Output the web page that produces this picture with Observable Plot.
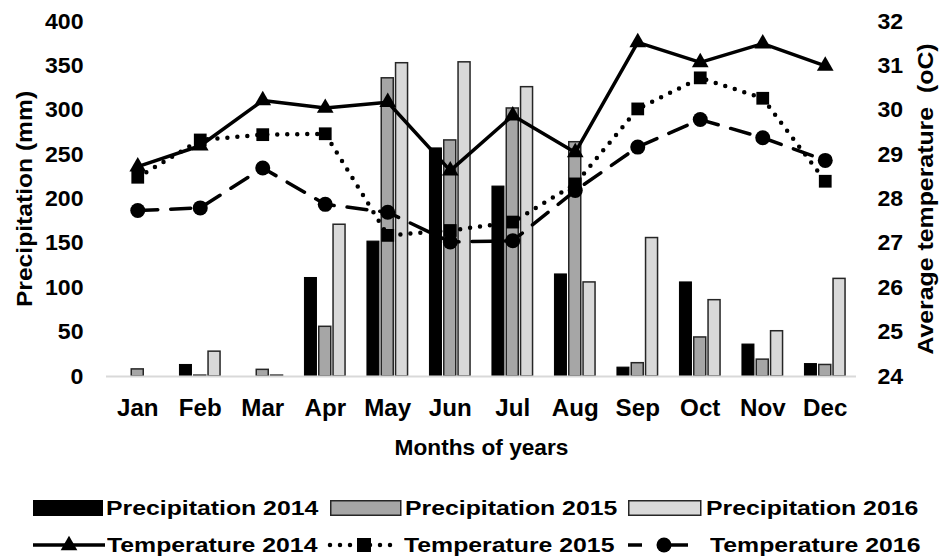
<!DOCTYPE html>
<html><head><meta charset="utf-8">
<script src="https://cdn.jsdelivr.net/npm/d3@7"></script>
<script src="https://cdn.jsdelivr.net/npm/@observablehq/plot@0.6"></script>
<style>
body{margin:0;background:#fff;font-family:"Liberation Sans",Arial,sans-serif;font-weight:bold;}
#legend{position:relative;width:940px;height:80px;}
.sw{position:absolute;}
.lab{position:absolute;font-size:20px;line-height:22px;white-space:pre;color:#000;transform:scaleX(1.24);transform-origin:0 50%;}
</style></head><body><div id="chart"></div><div id="legend"></div>
<script>
const months = ["Jan","Feb","Mar","Apr","May","Jun","Jul","Aug","Sep","Oct","Nov","Dec"];
const precip2014 = [0, 13, 0, 111, 152, 257, 214, 115, 10, 106, 36, 14];
const precip2015 = [8, 1, 7.5, 56, 336, 266, 302, 264, 15, 44, 19, 13];
const precip2016 = [0, 28, 1, 171, 353, 354, 326, 106, 156, 86, 51, 110];
const temp2014 = [28.73, 29.2, 30.22, 30.05, 30.18, 28.64, 29.88, 29.05, 31.53, 31.08, 31.5, 31.0];
const temp2015 = [28.49, 29.33, 29.45, 29.47, 27.18, 27.29, 27.48, 28.34, 30.03, 30.73, 30.27, 28.4];
const temp2016 = [27.74, 27.8, 28.7, 27.88, 27.7, 27.03, 27.06, 28.19, 29.17, 29.79, 29.38, 28.87];
const precipTicks = [0, 50, 100, 150, 200, 250, 300, 350, 400];
const tempTicks = [24, 25, 26, 27, 28, 29, 30, 31, 32];

const tMin = 24, tMax = 32, pMax = 400;
const tY = t => (t - tMin) * pMax / (tMax - tMin);

const rows = months.map((m, k) => ({
  i: k + 1, m,
  p14: precip2014[k], p15: precip2015[k], p16: precip2016[k],
  t14: tY(temp2014[k]), t15: tY(temp2015[k]), t16: tY(temp2016[k])
}));

const unit = 62.5;             // px per month
const hw = 6 / unit, off = 14.3 / unit;
const F = {fontFamily: "Liberation Sans, Arial, sans-serif", fontWeight: "bold"};
const xTitle = "Months of years", yTitle = "Precipitation (mm)", y2Title = "Average temperature  (oC)";

const chart = Plot.plot({
  width: 940, height: 480,
  marginLeft: 106, marginRight: 84, marginTop: 21, marginBottom: 104,
  x: {domain: [0.5, 12.5], axis: null},
  y: {domain: [0, 400], axis: null},
  style: {background: "#fff", overflow: "visible"},
  marks: [
    Plot.rectY(rows.filter(d => d.p14 > 0), {x1: d => d.i - off - hw, x2: d => d.i - off + hw, y: "p14", fill: "#000", stroke: "#000", strokeWidth: 1}),
    Plot.rectY(rows, {x1: d => d.i - hw, x2: d => d.i + hw, y: "p15", fill: "#a6a6a6", stroke: "#262626", strokeWidth: 1.5}),
    Plot.rectY(rows.filter(d => d.p16 > 0), {x1: d => d.i + off - hw, x2: d => d.i + off + hw, y: "p16", fill: "#d9d9d9", stroke: "#262626", strokeWidth: 1.5}),
    Plot.ruleY([0], {stroke: "#d9d9d9", strokeWidth: 2}),
    Plot.line(rows, {x: "i", y: "t16", stroke: "#000", strokeWidth: 3.5, strokeDasharray: "20 13"}),
    Plot.line(rows, {x: "i", y: "t15", stroke: "#000", strokeWidth: 4.5, strokeDasharray: "0 10", strokeLinecap: "round"}),
    Plot.line(rows, {x: "i", y: "t14", stroke: "#000", strokeWidth: 3.5}),
    Plot.dot(rows, {x: "i", y: "t16", r: 7.5, fill: "#000", symbol: "circle"}),
    Plot.dot(rows, {x: "i", y: "t15", r: 7.2, fill: "#000", symbol: "square"}),
    Plot.dot(rows, {x: "i", y: "t14", r: 6.2, fill: "#000", symbol: "triangle"}),
    Plot.text(precipTicks, {x: 0.5, y: d => d, text: d => String(d), dx: -23, textAnchor: "end", fontSize: 22, ...F}),
    Plot.text(tempTicks, {x: 12.5, y: d => tY(d), text: d => String(d), dx: 21, textAnchor: "start", fontSize: 22, ...F}),
    Plot.text(rows, {x: "i", y: 0, text: "m", dy: 32, fontSize: 23, ...F}),
    Plot.text([xTitle], {frameAnchor: "bottom", dy: 78, fontSize: 22, ...F}),
    Plot.text([yTitle], {frameAnchor: "left", textAnchor: "middle", dx: -82, rotate: -90, fontSize: 22, ...F}),
    Plot.text([y2Title], {frameAnchor: "right", textAnchor: "middle", dx: 69, rotate: -90, fontSize: 22, ...F})
  ]
});
document.getElementById("chart").appendChild(chart);
// horizontal stretch of the glyphs, as in the reference
chart.querySelectorAll("text").forEach(t => {
  const s = t.textContent;
  t.setAttribute("xml:space", "preserve");
  t.style.whiteSpace = "pre";
  let k = 1.05;
  if (s === yTitle) k = 1.12;
  else if (s === y2Title) k = 1.13;
  else if (s === xTitle) k = 1.03;
  const tr = t.getAttribute("transform") || "";
  if (tr.includes("rotate")) {
    t.setAttribute("transform", tr + ` scale(${k},1)`);
    return;
  }
  const len = t.getComputedTextLength();
  if (len > 0) {
    t.setAttribute("textLength", (len * k).toFixed(1));
    t.setAttribute("lengthAdjust", "spacingAndGlyphs");
  }
});

// legend
const L = document.getElementById("legend");
function addSvg(x, y, w, h, inner) {
  const s = document.createElementNS("http://www.w3.org/2000/svg", "svg");
  s.setAttribute("width", w); s.setAttribute("height", h);
  s.setAttribute("class", "sw");
  s.style.left = x + "px"; s.style.top = y + "px";
  s.innerHTML = inner;
  L.appendChild(s);
}
function addLab(x, cy, txt) {
  const d = document.createElement("div");
  d.className = "lab"; d.textContent = txt;
  d.style.left = x + "px"; d.style.top = (cy - 11) + "px";
  L.appendChild(d);
}
const r1 = 28, r2 = 65;
addSvg(33, r1 - 8, 70, 16, '<rect x="0" y="0" width="70" height="16" fill="#000"/>');
addLab(106, r1, "Precipitation 2014");
addSvg(330, r1 - 8, 72, 16, '<rect x="0.75" y="0.75" width="70" height="14.5" fill="#a6a6a6" stroke="#262626" stroke-width="1.5"/>');
addLab(405, r1, "Precipitation 2015");
addSvg(628, r1 - 8, 74, 16, '<rect x="0.75" y="0.75" width="72" height="14.5" fill="#d9d9d9" stroke="#262626" stroke-width="1.5"/>');
addLab(706, r1, "Precipitation 2016");

addSvg(33, r2 - 10, 72, 20, '<line x1="0" y1="10" x2="72" y2="10" stroke="#000" stroke-width="3.5"/><path transform="translate(36,10.5)" d="' + d3.symbol(d3.symbolTriangle, 6.2*6.2*Math.PI)() + '" fill="#000"/>');
addLab(107, r2, "Temperature 2014");
addSvg(327, r2 - 10, 74, 20, '<line x1="3" y1="10" x2="72" y2="10" stroke="#000" stroke-width="4.5" stroke-dasharray="0 10" stroke-linecap="round"/><rect x="30" y="3" width="14" height="14" fill="#000"/>');
addLab(404, r2, "Temperature 2015");
addSvg(628, r2 - 10, 64, 20, '<line x1="0" y1="10" x2="14" y2="10" stroke="#000" stroke-width="3.5"/><line x1="30" y1="10" x2="60" y2="10" stroke="#000" stroke-width="3.5"/><circle cx="36" cy="10" r="7.5" fill="#000"/>');
addLab(710, r2, "Temperature 2016");
</script></body></html>
